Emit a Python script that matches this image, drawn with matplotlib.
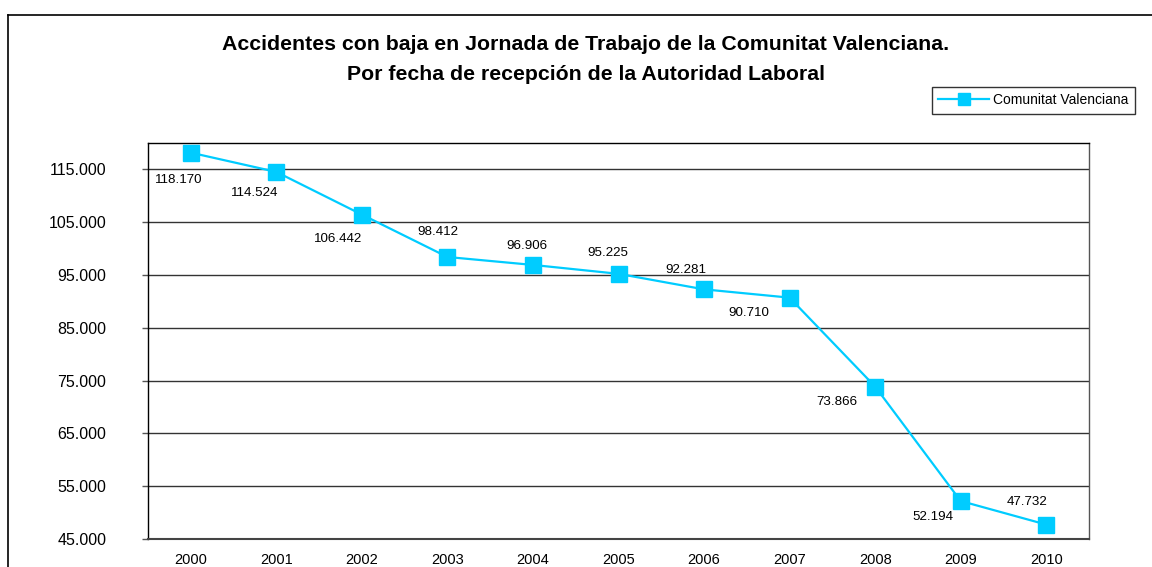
import matplotlib

matplotlib.use("Agg")
import matplotlib.pyplot as plt
from matplotlib.lines import Line2D

plt.rcParams["font.family"] = ["Liberation Sans", "DejaVu Sans"]

# datos: accidentes con baja por año de recepción
years = ["2000", "2001", "2002", "2003", "2004", "2005", "2006", "2007", "2008", "2009", "2010"]
values = [118170, 114524, 106442, 98412, 96906, 95225, 92281, 90710, 73866, 52194, 47732]
value_labels = ["118.170", "114.524", "106.442", "98.412", "96.906", "95.225",
                "92.281", "90.710", "73.866", "52.194", "47.732"]
y_ticks = [45000, 55000, 65000, 75000, 85000, 95000, 105000, 115000]
y_tick_labels = ["45.000", "55.000", "65.000", "75.000", "85.000", "95.000", "105.000", "115.000"]

# desplazamiento de cada etiqueta respecto al marcador (px)
label_offsets = [(-12, -27), (-22, -21), (-24, -24), (-10, 25), (-6, 19), (-11, 21),
                 (-18, 19), (-41, -15), (-38, -15), (-28, -16), (-19, 23)]

W, H = 1152, 567
fig = plt.figure(figsize=(W / 100, H / 100), dpi=100)
ax = fig.add_axes([148 / W, 1 - 539 / H, (1089 - 148) / W, (539 - 143) / H])

x = list(range(len(years)))
cyan = "#00CCFF"
ax.plot(x, values, color=cyan, lw=1.6, marker="s", ms=12, mec=cyan, mfc=cyan,
        label="Comunitat Valenciana", zorder=3)

for xi, v, lab, (dx, dy) in zip(x, values, value_labels, label_offsets):
    ax.annotate(lab, (xi, v), xytext=(dx, dy), textcoords="offset pixels",
                ha="center", va="center", fontsize=9.6, color="black")

ax.set_xlim(-0.5, len(years) - 0.5)
ax.set_ylim(45000, 120000)
ax.set_xticks(x)
ax.set_xticklabels(years, fontsize=10.5)
ax.set_yticks(y_ticks)
ax.set_yticklabels(y_tick_labels, fontsize=11.5)
ax.tick_params(axis="x", length=0, pad=10)
ax.tick_params(axis="y", length=4, width=1, direction="out", pad=26, color="#555555")
ax.grid(axis="y", color="#333333", lw=1)
ax.set_axisbelow(True)

for side in ["left", "top"]:
    ax.spines[side].set_color("black")
    ax.spines[side].set_linewidth(1)
ax.spines["right"].set_color("#555555")
ax.spines["right"].set_linewidth(1)
ax.spines["bottom"].set_color("#444444")
ax.spines["bottom"].set_linewidth(1.5)

fig.text(586 / W, 1 - 45 / H, "Accidentes con baja en Jornada de Trabajo de la Comunitat Valenciana.",
         ha="center", va="center", fontsize=15.3, fontweight="bold")
fig.text(586 / W, 1 - 75 / H, "Por fecha de recepción de la Autoridad Laboral",
         ha="center", va="center", fontsize=15.3, fontweight="bold")

leg = fig.legend(loc="upper right", bbox_to_anchor=(1135 / W, 1 - 87 / H), fontsize=10,
                 frameon=True, fancybox=False, handlelength=3.7, borderpad=0.45,
                 borderaxespad=0, handletextpad=0.3)
leg.get_frame().set_edgecolor("black")
leg.get_frame().set_linewidth(1)
leg.legend_handles[0].set_markersize(9)

# marco exterior del gráfico
fig.add_artist(Line2D([8 / W, 1], [1 - 15 / H, 1 - 15 / H], color="black", lw=1.2))
fig.add_artist(Line2D([8 / W, 8 / W], [0, 1 - 15 / H], color="black", lw=1.2))

fig.savefig("out.png", dpi=100)
